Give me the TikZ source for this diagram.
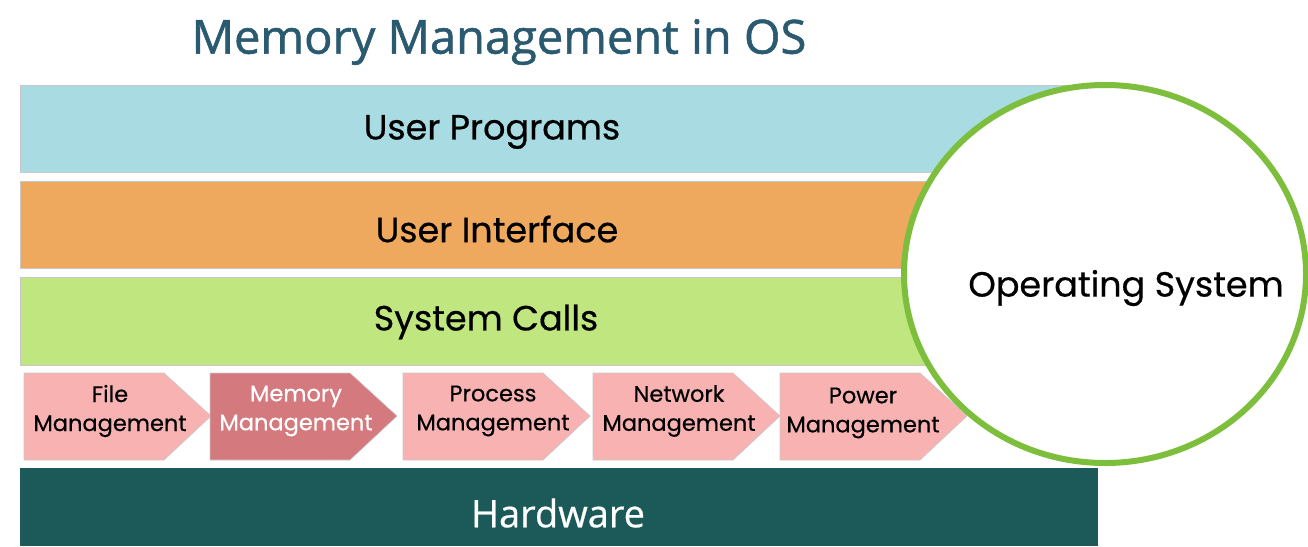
\documentclass[tikz,border=0pt]{standalone}
\usepackage{fontspec}
\setmainfont{Poppins}[FakeBold=0.5]
\newfontfamily\titlefont{Open Sans}[FakeBold=1.2]
\newfontfamily\hwfont{Open Sans}[FakeBold=0.6]
\usetikzlibrary{shapes.geometric}
\definecolor{upcol}{HTML}{A8DCE2}
\definecolor{uicol}{HTML}{EFA95E}
\definecolor{sccol}{HTML}{BFE67F}
\definecolor{pinkcol}{HTML}{F8B2B2}
\definecolor{memcol}{HTML}{D47A7E}
\definecolor{hwcol}{HTML}{1C5A5A}
\definecolor{titlecol}{HTML}{2A5A70}
\definecolor{oscol}{HTML}{7DBE3C}
\definecolor{edgecol}{HTML}{C8C8C8}
\begin{document}
\begin{tikzpicture}[x=1pt,y=-1pt,
  band/.style={draw=edgecol,line width=0.8pt},
  bandtext/.style={font=\fontsize{35}{40}\selectfont,text=black},
  mgtext/.style={font=\fontsize{22.5}{29}\selectfont,align=center,text=black},
]
\useasboundingbox (0,0) rectangle (1308,546);
% title
\node[font=\titlefont\fontsize{47}{54}\selectfont,text=titlecol] (title) at (499,42) {Memory Management in OS};
% bands
\draw[band,fill=upcol] (20,85) rectangle (1135,172);
\node[bandtext] (up) at (492,132) {User Programs};
\draw[band,fill=uicol] (20,181) rectangle (1000,268);
\node[bandtext] (ui) at (497,229) {User Interface};
\draw[band,fill=sccol] (20,277) rectangle (1000,365);
\node[bandtext] (sc) at (486,322) {System Calls};
% management arrows
\foreach \x/\c in {24/pinkcol,210/memcol,403/pinkcol,593/pinkcol,780/pinkcol}{
  \draw[draw=edgecol,line width=0.6pt,fill=\c] (\x,373) -- (\x+140,373) -- (\x+187,416) -- (\x+140,460) -- (\x,460) -- cycle;
}
\node[mgtext] (fm) at (110,411) {File\\Management};
\node[mgtext,text=white] (mm) at (296,411) {Memory\\Management};
\node[mgtext] (pm) at (493,411) {Process\\Management};
\node[mgtext] (nm) at (679,411) {Network\\Management};
\node[mgtext] (pw) at (863,413) {Power\\Management};
% hardware
\fill[hwcol] (20,468) rectangle (1098,546);
\node[font=\hwfont\fontsize{38}{44}\selectfont,text=white] (hw) at (558,513) {Hardware};
% operating system ellipse
\node[ellipse,draw=oscol,line width=6pt,fill=white,minimum width=402pt,minimum height=378pt,inner sep=0pt] (os) at (1105,274) {};
\node[font=\fontsize{35}{40}\selectfont,text=black] (ostext) at (1126,288) {Operating System};
\end{tikzpicture}
\end{document}
